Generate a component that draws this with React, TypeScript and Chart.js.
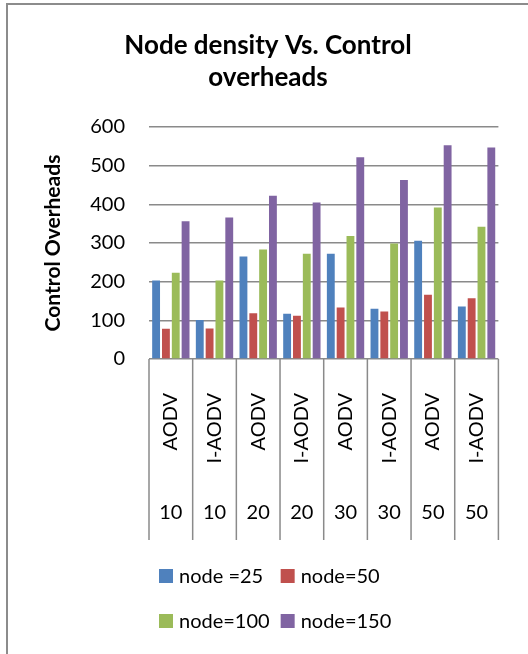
import React, { useEffect, useRef } from "react";
import { Chart, registerables } from "chart.js";

Chart.register(...registerables);

// Inner category level (protocol) and outer level (speed) of the x axis
const protocols = ["AODV", "I-AODV", "AODV", "I-AODV", "AODV", "I-AODV", "AODV", "I-AODV"];
const speeds = ["10", "10", "20", "20", "30", "30", "50", "50"];

// Control overhead per node density
const node25 = [203, 101, 265, 117, 272, 130, 306, 136];
const node50 = [78, 79, 118, 112, 133, 123, 166, 157];
const node100 = [223, 203, 283, 272, 318, 299, 392, 342];
const node150 = [356, 366, 422, 405, 522, 463, 553, 547];

const seriesNames = ["node =25", "node=50", "node=100", "node=150"];
const seriesColors = ["#4F81BD", "#C0504D", "#9BBB59", "#8064A2"];

const titleLines = ["Node density Vs. Control", "overheads"];
const yTitle = "Control Overheads";
const yMin = 0;
const yMax = 600;
const yStep = 100;

const FONT = "Lato";
const GRID = "#8a8a8a";

const decorations = {
  id: "decorations",
  beforeDraw(chart: any) {
    const { ctx, width, height } = chart;
    ctx.save();
    ctx.fillStyle = "#ffffff";
    ctx.fillRect(0, 0, width, height);
    // outer frame (left and top edges)
    ctx.strokeStyle = "#8c8c8c";
    ctx.lineWidth = 2;
    ctx.beginPath();
    ctx.moveTo(7, height);
    ctx.lineTo(7, 4);
    ctx.lineTo(width, 4);
    ctx.stroke();
    ctx.restore();
  },
  afterDraw(chart: any) {
    const { ctx, chartArea } = chart;
    const x = chart.scales.x;
    const x2 = chart.scales.x2;
    ctx.save();

    // chart title
    ctx.fillStyle = "#000";
    ctx.font = `bold 26px ${FONT}`;
    ctx.textAlign = "center";
    ctx.textBaseline = "middle";
    ctx.fillText(titleLines[0], 268, 46);
    ctx.fillText(titleLines[1], 268, 78);

    // category separators through both label levels
    ctx.strokeStyle = GRID;
    ctx.lineWidth = 1.5;
    ctx.beginPath();
    for (let i = 0; i <= protocols.length; i++) {
      const px = x.getPixelForValue(i - 0.5);
      ctx.moveTo(px, chartArea.bottom);
      ctx.lineTo(px, x2.bottom);
    }
    ctx.stroke();

    // legend: two rows, two columns
    ctx.font = `20px ${FONT}`;
    ctx.textAlign = "left";
    const box = 14;
    const gap = 6;
    const colGap = 11;
    const ds = chart.data.datasets;
    const widths = ds.map((d: any) => box + gap + ctx.measureText(d.label).width);
    const col0 = Math.max(widths[0], widths[2]);
    const col1 = Math.max(widths[1], widths[3]);
    const total = col0 + colGap + col1;
    const startX = Math.round(275 - total / 2);
    const rowsY = [576, 621];
    ds.forEach((d: any, i: number) => {
      const r = Math.floor(i / 2);
      const c = i % 2;
      const bx = c === 0 ? startX : startX + col0 + colGap;
      const cy = rowsY[r];
      ctx.fillStyle = d.backgroundColor;
      ctx.fillRect(bx, cy - box / 2, box, box);
      ctx.fillStyle = "#000";
      ctx.fillText(d.label, bx + box + gap, cy + 1);
    });

    ctx.restore();
  },
};

export default function App() {
  const ref = useRef<HTMLCanvasElement>(null);

  useEffect(() => {
    if (!ref.current) return;
    Chart.defaults.font.family = FONT;
    Chart.defaults.color = "#000";
    const series = [node25, node50, node100, node150];
    const chart = new Chart(ref.current, {
      type: "bar",
      data: {
        labels: protocols,
        datasets: series.map((data, i) => ({
          label: seriesNames[i],
          data,
          backgroundColor: seriesColors[i],
          categoryPercentage: 0.9,
          barPercentage: 0.8,
        })),
      },
      options: {
        responsive: false,
        animation: false,
        layout: { padding: { top: 127, right: 23, bottom: 114, left: 30 } },
        plugins: {
          legend: { display: false },
          title: { display: false },
          tooltip: { enabled: false },
        },
        scales: {
          x: {
            weight: 0,
            offset: true,
            grid: { display: false },
            border: { display: false },
            ticks: {
              autoSkip: false,
              minRotation: 90,
              maxRotation: 90,
              padding: 26,
              font: { size: 20 },
            },
            afterFit: (s: any) => {
              s.height = 111;
            },
          },
          x2: {
            type: "category",
            position: "bottom",
            weight: 1,
            labels: speeds,
            offset: true,
            grid: { display: false },
            border: { display: false },
            ticks: { autoSkip: false, maxRotation: 0, padding: 23, font: { size: 20 } },
            afterFit: (s: any) => {
              s.height = 70;
            },
          },
          y: {
            min: yMin,
            max: yMax,
            ticks: { stepSize: yStep, padding: 24, font: { size: 20 } },
            grid: { color: GRID, lineWidth: 1.5, drawTicks: false },
            border: { display: false },
            title: {
              display: true,
              text: yTitle,
              font: { size: 21, weight: "bold" },
              padding: { top: 11, bottom: 0 },
            },
            afterFit: (s: any) => {
              s.width = 119;
            },
          },
        },
      },
      plugins: [decorations],
    });
    return () => chart.destroy();
  }, []);

  return (
    <div style={{ position: "absolute", left: 0, top: 0, width: 528, height: 654, overflow: "hidden" }}>
      <canvas ref={ref} width={528} height={654} style={{ width: 528, height: 654, display: "block" }} />
    </div>
  );
}
